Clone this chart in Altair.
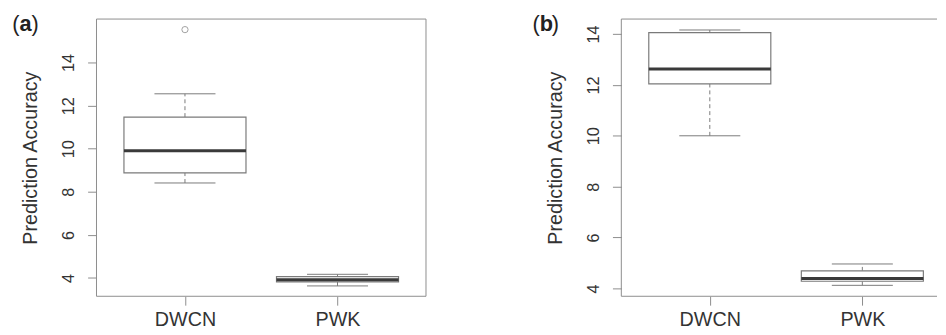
import altair as alt
import pandas as pd

# ---------------- data ----------------
categories = ["DWCN", "PWK"]

# panel (a)
a_lower = [8.41, 3.63]
a_q1 = [8.88, 3.82]
a_median = [9.91, 3.92]
a_q3 = [11.47, 4.06]
a_upper = [12.55, 4.17]
a_outlier_cat = ["DWCN"]
a_outlier_val = [15.53]

# panel (b)
b_lower = [10.00, 4.12]
b_q1 = [12.04, 4.28]
b_median = [12.63, 4.39]
b_q3 = [14.06, 4.69]
b_upper = [14.16, 4.96]
b_outlier_cat = []
b_outlier_val = []

y_ticks = [4, 6, 8, 10, 12, 14]
y_title = "Prediction Accuracy"

# ---------------- style ----------------
FONT = "Liberation Sans"
TEXT = "#333333"
FRAME = "#8c8c8c"
BOX = "#7a7a7a"
MED = "#3a3a3a"

H = 281


def label_expr():
    parts = [f"datum.value == {i + 1} ? '{c}'" for i, c in enumerate(categories)]
    return " : ".join(parts) + " : ''"


def panel(letter, lower, q1, med, q3, upper, out_cat, out_val, ydom, xdom, W, right_border, letter_dx):
    df = pd.DataFrame({
        "cat": categories,
        "pos": [i + 1 for i in range(len(categories))],
        "lower": lower, "q1": q1, "median": med, "q3": q3, "upper": upper,
    })
    base = alt.Chart(df).transform_calculate(
        bl="datum.pos - 0.4", br="datum.pos + 0.4",
        cl="datum.pos - 0.2", cr="datum.pos + 0.2",
    )
    xs = alt.Scale(domain=xdom, nice=False, zero=False)
    ys = alt.Scale(domain=ydom, nice=False, zero=False)

    xaxis = alt.Axis(values=[i + 1 for i in range(len(categories))], labelExpr=label_expr(),
                     domain=False, grid=False, ticks=True, tickSize=9, tickColor=FRAME,
                     labelFont=FONT, labelFontSize=20, labelColor=TEXT, labelPadding=5,
                     title=None)
    yaxis = alt.Axis(values=y_ticks, domain=False, grid=False, tickSize=9, tickColor=FRAME,
                     labelFont=FONT, labelFontSize=16.5, labelColor=TEXT, labelAngle=270,
                     labelAlign="center", labelBaseline="alphabetic", labelPadding=14.5,
                     title=y_title, titleFont=FONT, titleFontSize=20, titleFontWeight="normal",
                     titleColor=TEXT, titleAngle=270, titleAlign="center",
                     titleBaseline="alphabetic", titleX=-61, titleY=H / 2)

    def X(f):
        return alt.X(f, scale=xs, axis=xaxis)

    def Y(f):
        return alt.Y(f, scale=ys, axis=yaxis)

    whisk_up = base.mark_rule(color=BOX, strokeDash=[4, 3], strokeWidth=1).encode(
        x=X("pos:Q"), y=Y("q3:Q"), y2="upper:Q")
    whisk_lo = base.mark_rule(color=BOX, strokeDash=[4, 3], strokeWidth=1).encode(
        x=X("pos:Q"), y=Y("lower:Q"), y2="q1:Q")
    cap_up = base.mark_rule(color=BOX, strokeWidth=1).encode(
        x=X("cl:Q"), x2="cr:Q", y=Y("upper:Q"))
    cap_lo = base.mark_rule(color=BOX, strokeWidth=1).encode(
        x=X("cl:Q"), x2="cr:Q", y=Y("lower:Q"))
    box = base.mark_rect(fill="white", stroke=BOX, strokeWidth=1.2).encode(
        x=X("bl:Q"), x2="br:Q", y=Y("q1:Q"), y2="q3:Q")
    median = base.mark_rule(color=MED, strokeWidth=3).encode(
        x=X("bl:Q"), x2="br:Q", y=Y("median:Q"))

    layers = [whisk_up, whisk_lo, cap_up, cap_lo, box, median]

    if out_cat:
        odf = pd.DataFrame({"cat": out_cat, "val": out_val})
        odf["pos"] = [categories.index(c) + 1 for c in out_cat]
        layers.append(alt.Chart(odf).mark_point(shape="circle", filled=False, size=40,
                                                stroke=BOX, strokeWidth=1).encode(
            x=X("pos:Q"), y=Y("val:Q")))

    one = alt.Chart(pd.DataFrame({"k": [0]}))
    # frame
    layers.append(one.mark_rule(color=FRAME, strokeWidth=1).encode(
        x=alt.value(0), x2=alt.value(W), y=alt.value(0)))
    layers.append(one.mark_rule(color=FRAME, strokeWidth=1).encode(
        x=alt.value(0), x2=alt.value(W), y=alt.value(H)))
    layers.append(one.mark_rule(color=FRAME, strokeWidth=1).encode(
        x=alt.value(0), y=alt.value(0), y2=alt.value(H)))
    if right_border:
        layers.append(one.mark_rule(color=FRAME, strokeWidth=1).encode(
            x=alt.value(W), y=alt.value(0), y2=alt.value(H)))

    # panel letter "(a)" with bold letter
    layers.append(one.mark_text(text="(", font=FONT, fontSize=22, color="#222222",
                                align="left", baseline="alphabetic").encode(
        x=alt.value(letter_dx), y=alt.value(12)))
    layers.append(one.mark_text(text=letter, font=FONT, fontSize=22, fontWeight="bold",
                                color="#222222", align="left", baseline="alphabetic").encode(
        x=alt.value(letter_dx + 7.3), y=alt.value(12)))
    layers.append(one.mark_text(text=")", font=FONT, fontSize=22, color="#222222",
                                align="left", baseline="alphabetic").encode(
        x=alt.value(letter_dx + 7.3 + 12.2), y=alt.value(12)))

    return alt.layer(*layers).properties(width=W, height=H)


pa = panel("a", a_lower, a_q1, a_median, a_q3, a_upper, a_outlier_cat, a_outlier_val,
           ydom=[3.15, 16.02], xdom=[0.42, 2.58], W=334, right_border=True, letter_dx=-85.3)
pb = panel("b", b_lower, b_q1, b_median, b_q3, b_upper, b_outlier_cat, b_outlier_val,
           ydom=[3.69, 14.59], xdom=[0.42, 2.4895], W=320, right_border=False, letter_dx=-90)

chart = alt.hconcat(pa, pb, spacing=107).properties(
    padding={"left": 3.7, "top": 3.0, "right": 0, "bottom": 0},
    background="white",
).configure_view(strokeWidth=0)

chart.save("out.html", embed_options={"renderer": "svg", "actions": False})
